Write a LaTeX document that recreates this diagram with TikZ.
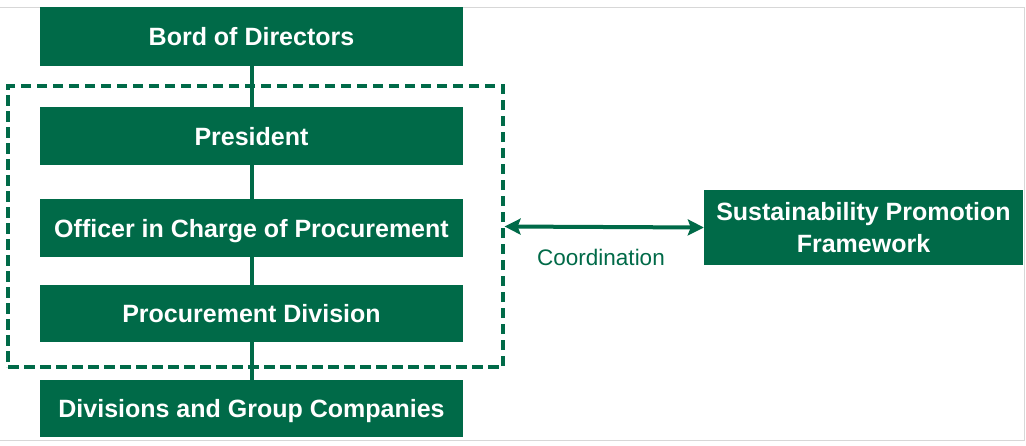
\documentclass[tikz,border=0pt]{standalone}
\usepackage{fontspec}
\setmainfont{Liberation Sans}
\usetikzlibrary{arrows.meta}
\definecolor{corpgreen}{RGB}{0,106,72}
\definecolor{framegray}{RGB}{215,215,215}
\begin{document}
\begin{tikzpicture}[x=1pt,y=-1pt,
  gfont/.style={font=\fontsize{25}{32}\selectfont\bfseries},
  gbox/.style={fill=corpgreen, draw=none, text=white, inner sep=0pt, align=center, gfont},
  onebox/.style={gbox, minimum width=423pt, text height=18pt, text depth=0pt},
  link/.style={draw=corpgreen, line width=4pt},
  grpbox/.style={draw=corpgreen, line width=3.2pt, dash pattern=on 10.5pt off 5.5pt, inner sep=0pt},
  coord/.style={draw=corpgreen, line width=4pt, {Stealth[length=16pt,width=16pt,inset=3pt]}-{Stealth[length=16pt,width=16pt,inset=3pt]}},
  lbl/.style={text=corpgreen, inner sep=0pt, font=\fontsize{22.5}{27}\selectfont}
]
\useasboundingbox (0,0) rectangle (1026,445);
\fill[white] (0,0) rectangle (1026,445);
% faint frame lines
\draw[framegray, line width=1pt] (0,7) -- (1024,7) -- (1024,440) -- (0,440);

% dashed group
\node[grpbox, minimum width=495pt, minimum height=281pt] (grp) at (255.5,226.5) {};

% boxes
\node[onebox, minimum height=59pt] (bod) at (251.5,36.5) {Bord of Directors};
\node[onebox, minimum height=58pt] (pres) at (251.5,136) {President};
\node[onebox, minimum height=58pt] (ocp) at (251.5,228) {Officer in Charge of Procurement};
\node[onebox, minimum height=57pt] (pd) at (251.5,313.5) {Procurement Division};
\node[onebox, minimum height=57pt] (dgc) at (251.5,408.5) {Divisions and Group Companies};
\node[gbox, minimum width=319pt, minimum height=75pt] (spf) at (863.5,227.5) {Sustainability Promotion\\Framework};

% connectors
\draw[link] (bod.south) -- (pres.north);
\draw[link] (pres.south) -- (ocp.north);
\draw[link] (ocp.south) -- (pd.north);
\draw[link] (pd.south) -- (dgc.north);
\draw[coord] (grp.east) -- (spf.west);

\node[lbl] (clbl) at (601,257) {Coordination};
\end{tikzpicture}
\end{document}
